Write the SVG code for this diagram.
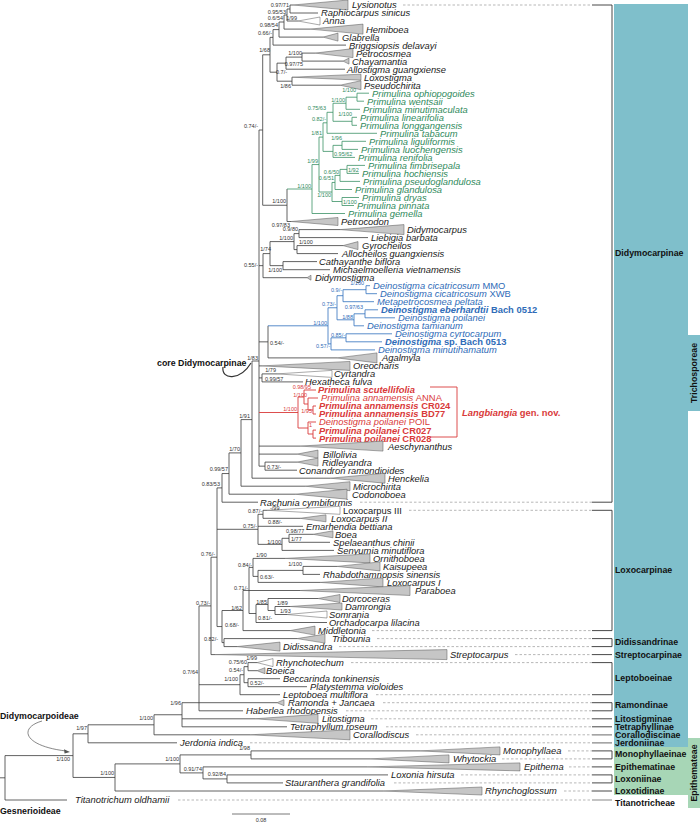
<svg xmlns="http://www.w3.org/2000/svg" width="700" height="822" viewBox="0 0 700 822">
<style>
.br{fill:none;stroke:#3a3a3a;stroke-width:0.8}
.gn{fill:none;stroke:#3b9266;stroke-width:0.8}
.bl{fill:none;stroke:#3070bd;stroke-width:0.8}
.rd{fill:none;stroke:#d93a3a;stroke-width:0.9}
.tri{fill:#c6c6c6;stroke:#555;stroke-width:0.5}
.trw{fill:#fff;stroke:#555;stroke-width:0.5}
text{font-family:"Liberation Sans",Arial,sans-serif}
.t{font-style:italic;font-size:9.4px;fill:#1a1a1a}
.tg{fill:#2f8a5c}
.tb{fill:#2f6cb8}
.tr{fill:#d93a3a}
.bd{font-weight:bold}
.u{font-style:normal}
.s{font-size:5.5px;fill:#333}
.sg{fill:#2f8a5c}
.sb{fill:#2f6cb8}
.sr{fill:#d93a3a}
.e{text-anchor:end}
.d{fill:none;stroke:#9a9a9a;stroke-width:0.7;stroke-dasharray:2.5 2}
.k{fill:none;stroke:#333;stroke-width:0.9}
.kg{fill:none;stroke:#888;stroke-width:1.2}
.sub{font-weight:bold;font-size:8.8px;fill:#111}
</style>

<g id="bands">
<rect x="614" y="4" width="74" height="743" fill="#7fbfcb"/>
<rect x="688" y="335" width="12" height="76" fill="#7fbfcb"/>
<rect x="614" y="747" width="74" height="48" fill="#a7d6b6"/>
<rect x="688" y="738" width="12" height="70" fill="#a7d6b6"/>
<text class="sub" transform="translate(697 373) rotate(-90)" text-anchor="middle" font-size="9">Trichosporeae</text>
<text class="sub" transform="translate(697 773) rotate(-90)" text-anchor="middle" font-size="9">Epithemateae</text>
</g>

<g id="connectors">
<path class="br" d="M290 5V13M290 5H293M290 13H318M287 9V21M287 9H290M287 21H298M284 15V29.1M284 15H287M284 29.1H310M279 22V37.1M279 22H284M279 37.1H323M273 29.6V45.1M273 29.6H279M273 45.1H346M302 53.1V61.1M302 53.1H315M302 61.1H343M286 57.1V69.2M286 57.1H302M286 69.2H345M292 77.2V85.2M292 85.2H340M277 63.15V81.2M277 63.15H286M277 81.2H292M270 37.35V72.2M270 37.35H273M270 72.2H277M262.7 54.8V205.25M262.7 54.8H270M262.7 205.25H287M259 130H262.7M287 189V221.5M287 221.5H291M263 253.6V277.7M259 265.65H263M263 253.6H270M263 277.7H307M270 241.6V265.65M270 241.6H294M270 265.65H283M294 233.6V249.6M294 233.6H299M294 249.6H297M299 229.6V237.6M299 229.6H340M299 237.6H368M297 245.6V253.6M297 245.6H343M297 253.6H338M283 261.6V269.7M283 261.6H317M283 269.7H330M259 341.85H268M268 325.8V357.9M268 357.9H337M259 130V466.15M259 365.9H262M259 377.9H262M259 446.1H300M259 454.1H297M259 466.15H265M262 373.9V381.9M262 373.9H277M262 381.9H303M265 462.1V470.2M265 462.1H297M265 470.2H297M252 361V478.2M252 361H259M252 478.2H330M241 419.6V486.2M241 419.6H252M241 486.2H305M229 452.9V494.2M229 452.9H241M229 494.2H295M222 473.55V502.2M222 473.55H229M222 502.2H258"/>
<path class="br" d="M263 510.3V518.3M263 510.3H267M263 518.3H300M289 534.3V542.3M289 534.3H313M289 542.3H330M282 538.3V550.4M282 538.3H289M282 550.4H334M258 514.3V544.35M258 514.3H263M258 526.3H303M258 544.35H282M303 566.4V574.4M303 566.4H337M303 574.4H320M258 570.4V582.4M258 570.4H303M258 582.4H320M253 558.4V576.4M253 558.4H285M253 576.4H258M275 606.5V614.5M275 606.5H290M275 614.5H287M268 598.5V610.5M268 598.5H318M268 610.5H275M256 604.5V622.5M256 604.5H268M256 622.5H327M249 567.4V613.5M249 567.4H253M249 590.5H300M249 613.5H256M243 590.45V630.6M243 590.45H249M243 630.6H290M224 638.6V646.6M224 638.6H297M224 646.6H237M222 610.5V642.6M222 610.5H243M222 642.6H224M217 487.9V626.55M217 487.9H222M217 529.3H258M217 626.55H222M211 557.2V654.6M211 557.2H217M211 654.6H215M248 662.6V670.7M248 662.6H257M248 670.7H257M248 678.7V686.7M248 678.7H280M248 686.7H307M244 666.65V682.7M244 666.65H248M244 682.7H248M240 674.7V694.7M240 674.7H244M240 694.7H280M199 605.9V710.8M199 605.9H211M199 684.7H240M199 702.7H277M199 710.8H243M182 702.7V726.8M182 702.7H199M182 718.8H255M182 726.8H287M154 714.75V734.8M154 714.75H182M154 734.8H250M88 724.8V742.8M88 724.8H154M88 742.8H177M251 750.9V758.9M251 750.9H420M251 758.9H370M227 774.9V782.9M227 774.9H388M227 782.9H283M203 766.9V778.9M203 766.9H367M203 778.9H227M180 754.9V772.9M180 754.9H251M180 772.9H203M115 763.9V791M115 763.9H180M115 791H383M73 733.8V777.45M73 733.8H88M73 777.45H115M5 755.6V800M5 755.6H73M5 800H67M0 777.8H5"/>
<path class="gn" d="M287 189H312M312 164.55V213.5M312 164.55H319M312 213.5H345M319 137.1V192M319 137.1H323M319 192H332M323 122.8V151.4M323 122.8H327M323 151.4H333M327 112.3V133.3M327 112.3H333M327 133.3H377M333 103.25V121.3M333 103.25H346M333 121.3H352M346 97.2V109.3M346 97.2H357M346 109.3H360M357 93.2V101.2M357 93.2H369M357 101.2H364M352 117.3V125.3M352 117.3H357M352 125.3H357M333 145.35V157.4M333 145.35H342M333 157.4H355M342 141.3V149.4M342 141.3H366M342 149.4H358M332 182.45V201.5M332 182.45H335M332 201.5H342M335 175.4V189.5M335 175.4H340M335 189.5H352M340 169.4V181.4M340 169.4H347M340 181.4H360M347 165.4V173.4M347 165.4H365M347 173.4H359M342 197.5V205.5M342 197.5H359M342 205.5H354"/>
<path class="bl" d="M268 325.8H328M328 307.75V343.85M328 307.75H337M328 343.85H331M337 295.7V319.8M337 295.7H343M337 319.8H354M343 289.7V301.7M343 289.7H366M343 301.7H374M366 285.7V293.7M366 285.7H370M366 293.7H377M354 313.8V325.8M354 313.8H365M354 325.8H364M365 309.8V317.8M365 309.8H378M365 317.8H395M331 337.8V349.9M331 337.8H346M331 349.9H375M346 333.8V341.8M346 333.8H392M346 341.8H382"/>
<path class="rd" d="M259 412.5H298M298 397V428M298 397H304M304 390V404M304 390H316M304 404H308M308 398V410M308 398H318M308 410H313M313 406V414M313 406H316M313 414H316M298 428H308M308 422V434M308 422H316M308 434H313M313 430.1V438.1M313 430.1H316M313 438.1H316M430 387H457V437H430"/>
<path class="d" d="M403 5H592M360 502.2H592M409 510.3H592M372 630.6H592M377 638.6H592M339 646.6H592M515 654.6H592M351 662.6H592M376 694.7H592M383 702.7H592M346 710.8H592M371 718.8H592M386 726.8H592M416 734.8H592M250 742.8H592M568 750.9H592M502 758.9H592M569 766.9H592M461 774.9H592M394 782.9H592M564 791H592M178 800H592"/>
<path class="k" d="M592 5H612V502.2H592M592 510.3H612V630.6H592M592 638.6H612V646.6H592M592 654.6H612M592 662.6H612V694.7H592M592 702.7H612V710.8H592M592 718.8H612M592 726.8H612M592 750.9H612V758.9H592M592 766.9H612M592 774.9H612V782.9H592M592 791H612"/>
<path class="kg" d="M592 734.8H612M592 742.8H612M592 800H612"/>
<path fill="none" stroke="#333" stroke-width="1.2" d="M223 367C221 380 240 381 251 363"/>
<path fill="none" stroke="#555" stroke-width="0.7" d="M42 721C18 728 24 746 66 751"/>
<path fill="#555" d="M70 752L64 749.3L64.6 753.5Z"/>
<path fill="none" stroke="#555" stroke-width="0.8" d="M232 814H290"/>
</g>

<g id="tips-didymocarpinae">
<g id="n-lysionotus"><polygon class="tri" points="293,5 348,0 348,10"/><text class="t" x="352" y="8.4">Lysionotus</text></g>
<g id="n-raphiocarpus"><text class="t" x="321" y="16.4">Raphiocarpus sinicus</text></g>
<g id="n-anna"><polygon class="trw" points="298,21 320,17 320,25"/><text class="t" x="323" y="24.4">Anna</text></g>
<g id="n-hemiboea"><polygon class="tri" points="310,29.1 363,24.1 363,34.1"/><text class="t" x="366" y="32.5">Hemiboea</text></g>
<g id="n-glabrella"><polygon class="tri" points="323,37.1 338,33.1 338,41.1"/><text class="t" x="342" y="40.5">Glabrella</text></g>
<g id="n-briggsiopsis"><text class="t" x="349" y="48.5">Briggsiopsis delavayi</text></g>
<g id="n-petrocosmea"><polygon class="tri" points="315,53.1 353,48.6 353,57.6"/><text class="t" x="356" y="56.5">Petrocosmea</text></g>
<g id="n-chayamantia"><polygon class="tri" points="343,61.1 349,58.1 349,64.1"/><text class="t" x="352" y="64.5">Chayamantia</text></g>
<g id="n-allostigma"><text class="t" x="347" y="72.6">Allostigma guangxiense</text></g>
<g id="n-loxostigma"><polygon class="tri" points="292,77.2 361,74.2 361,80.2"/><text class="t" x="364" y="80.6">Loxostigma</text></g>
<g id="n-pseudochirita"><polygon class="tri" points="340,85.2 361,80.7 361,89.7"/><text class="t" x="364" y="88.6">Pseudochirita</text></g>
<g id="n-primulina">
<text class="t tg" x="372" y="96.6">Primulina ophiopogoides</text>
<text class="t tg" x="367" y="104.6">Primulina wentsaii</text>
<text class="t tg" x="363" y="112.7">Primulina minutimaculata</text>
<text class="t tg" x="360" y="120.7">Primulina linearifolia</text>
<text class="t tg" x="360" y="128.7">Primulina longgangensis</text>
<text class="t tg" x="380" y="136.7">Primulina tabacum</text>
<text class="t tg" x="369" y="144.7">Primulina liguliformis</text>
<text class="t tg" x="361" y="152.8">Primulina luochengensis</text>
<text class="t tg" x="358" y="160.8">Primulina renifolia</text>
<text class="t tg" x="368" y="168.8">Primulina fimbrisepala</text>
<text class="t tg" x="362" y="176.8">Primulina hochiensis</text>
<text class="t tg" x="363" y="184.8">Primulina pseudoglandulosa</text>
<text class="t tg" x="355" y="192.9">Primulina glandulosa</text>
<text class="t tg" x="362" y="200.9">Primulina dryas</text>
<text class="t tg" x="357" y="208.9">Primulina pinnata</text>
<text class="t tg" x="348" y="216.9">Primulina gemella</text>
</g>
<g id="n-petrocodon"><polygon class="tri" points="291,221.5 338,217.5 338,225.5"/><text class="t" x="341" y="224.9">Petrocodon</text></g>
<g id="n-didymocarpus"><polygon class="tri" points="340,229.6 404,224.6 404,234.6"/><text class="t" x="407" y="233">Didymocarpus</text></g>
<g id="n-liebigia"><text class="t" x="371" y="241">Liebigia barbata</text></g>
<g id="n-gyrocheilos"><polygon class="tri" points="343,245.6 358,241.6 358,249.6"/><text class="t" x="362" y="249">Gyrocheilos</text></g>
<g id="n-allocheilos"><text class="t" x="342" y="257">Allocheilos guangxiensis</text></g>
<g id="n-cathayanthe"><text class="t" x="319" y="265">Cathayanthe biflora</text></g>
<g id="n-michaelmoelleria"><text class="t" x="333" y="273.1">Michaelmoelleria vietnamensis</text></g>
<g id="n-didymostigma"><polygon class="tri" points="307,277.7 311,275.2 311,280.2"/><text class="t" x="315" y="281.1">Didymostigma</text></g>
<g id="n-deinostigma">
<text class="t tb" x="373" y="289.1">Deinostigma cicatricosum <tspan class="u">MMO</tspan></text>
<text class="t tb" x="380" y="297.1">Deinostigma cicatricosum <tspan class="u">XWB</tspan></text>
<text class="t tb" x="377" y="305.1">Metapetrocosmea peltata</text>
<text class="t tb bd" x="381" y="313.2">Deinostigma eberhardtii <tspan class="u">Bach 0512</tspan></text>
<text class="t tb" x="398" y="321.2">Deinostigma poilanei</text>
<text class="t tb" x="367" y="329.2">Deinostigma tamianum</text>
<text class="t tb" x="395" y="337.2">Deinostigma cyrtocarpum</text>
<text class="t tb bd" x="385" y="345.2">Deinostigma <tspan class="u">sp. Bach 0513</tspan></text>
<text class="t tb" x="378" y="353.3">Deinostigma minutihamatum</text>
</g>
<g id="n-agalmyla"><polygon class="tri" points="337,357.9 377,352.9 377,362.9"/><text class="t" x="382" y="361.3">Agalmyla</text></g>
<g id="n-oreocharis"><polygon class="tri" points="262,365.9 350,361.4 350,370.4"/><text class="t" x="353" y="369.3">Oreocharis</text></g>
<g id="n-cyrtandra"><polygon class="trw" points="277,373.9 332,370.4 332,377.4"/><text class="t" x="334" y="377.3">Cyrtandra</text></g>
<g id="n-hexatheca"><text class="t" x="305" y="385.3">Hexatheca fulva</text></g>
<g id="n-langbiangia">
<text class="t tr bd" x="318" y="393.4">Primulina scutellifolia</text>
<text class="t tr" x="321" y="401.4">Primulina annamensis <tspan class="u">ANNA</tspan></text>
<text class="t tr bd" x="319" y="409.4">Primulina annamensis <tspan class="u">CR024</tspan></text>
<text class="t tr bd" x="319" y="417.4">Primulina annamensis <tspan class="u">BD77</tspan></text>
<text class="t tr" x="319" y="425.4">Deinostigma poilanei <tspan class="u">POIL</tspan></text>
<text class="t tr bd" x="319" y="433.5">Primulina poilanei <tspan class="u">CR027</tspan></text>
<text class="t tr bd" x="319" y="441.5">Primulina poilanei <tspan class="u">CR028</tspan></text>
<text class="t tr bd" x="462" y="416" font-size="10.5">Langbiangia <tspan class="u">gen. nov.</tspan></text>
</g>
<g id="n-aeschynanthus"><polygon class="tri" points="300,446.1 383,441.1 383,451.1"/><text class="t" x="388" y="449.5">Aeschynanthus</text></g>
<g id="n-billolivia"><polygon class="tri" points="297,454.1 318,450.1 318,458.1"/><text class="t" x="323" y="457.5">Billolivia</text></g>
<g id="n-ridleyandra"><polygon class="tri" points="297,462.1 318,458.1 318,466.1"/><text class="t" x="322" y="465.5">Ridleyandra</text></g>
<g id="n-conandron"><text class="t" x="299" y="473.6">Conandron ramondioides</text></g>
<g id="n-henckelia"><polygon class="tri" points="330,478.2 385,473.2 385,483.2"/><text class="t" x="388" y="481.6">Henckelia</text></g>
<g id="n-microchirita"><polygon class="tri" points="305,486.2 350,481.7 350,490.7"/><text class="t" x="353" y="489.6">Microchirita</text></g>
<g id="n-codonoboea"><polygon class="tri" points="295,494.2 347,489.2 347,499.2"/><text class="t" x="352" y="497.6">Codonoboea</text></g>
<g id="n-rachunia"><text class="t" x="260" y="505.6">Rachunia cymbiformis</text></g>
</g>

<g id="tips-lower">
<g id="n-loxocarpus3"><polygon class="trw" points="267,510.3 340,506.3 340,514.3"/><text class="t u" x="343" y="513.7">Loxocarpus III</text></g>
<g id="n-loxocarpus2"><polygon class="tri" points="300,518.3 326,514.8 326,521.8"/><text class="t" x="331" y="521.7">Loxocarpus II</text></g>
<g id="n-emarhendia"><text class="t" x="306" y="529.7">Emarhendia bettiana</text></g>
<g id="n-boea"><polygon class="tri" points="313,534.3 333,530.8 333,537.8"/><text class="t" x="335" y="537.7">Boea</text></g>
<g id="n-spelaeanthus"><text class="t" x="333" y="545.7">Spelaeanthus chinii</text></g>
<g id="n-senyumia"><text class="t" x="337" y="553.8">Senyumia minutiflora</text></g>
<g id="n-ornithoboea"><polygon class="tri" points="285,558.4 370,553.9 370,562.9"/><text class="t" x="373" y="561.8">Ornithoboea</text></g>
<g id="n-kaisupeea"><polygon class="tri" points="337,566.4 380,561.9 380,570.9"/><text class="t" x="383" y="569.8">Kaisupeea</text></g>
<g id="n-rhabdothamnopsis"><text class="t" x="323" y="577.8">Rhabdothamnopsis sinensis</text></g>
<g id="n-loxocarpus1"><polygon class="tri" points="320,582.4 383,577.9 383,586.9"/><text class="t" x="387" y="585.8">Loxocarpus I</text></g>
<g id="n-paraboea"><polygon class="tri" points="300,590.5 410,585.5 410,595.5"/><text class="t" x="415" y="593.9">Paraboea</text></g>
<g id="n-dorcoceras"><polygon class="tri" points="318,598.5 340,594.5 340,602.5"/><text class="t" x="342" y="601.9">Dorcoceras</text></g>
<g id="n-damrongia"><polygon class="tri" points="290,606.5 342,603 342,610"/><text class="t" x="345" y="609.9">Damrongia</text></g>
<g id="n-somrania"><polygon class="trw" points="287,614.5 327,611 327,618"/><text class="t" x="329" y="617.9">Somrania</text></g>
<g id="n-orchadocarpa"><text class="t" x="329" y="625.9">Orchadocarpa lilacina</text></g>
<g id="n-middletonia"><polygon class="tri" points="290,630.6 315,626.1 315,635.1"/><text class="t" x="318" y="634">Middletonia</text></g>
<g id="n-tribounia"><polygon class="tri" points="297,638.6 325,634.1 325,643.1"/><text class="t" x="332" y="642">Tribounia</text></g>
<g id="n-didissandra"><polygon class="tri" points="237,646.6 280,642.1 280,651.1"/><text class="t" x="283" y="650">Didissandra</text></g>
<g id="n-streptocarpus"><polygon class="tri" points="215,654.6 447,649.6 447,659.6"/><text class="t" x="450" y="658">Streptocarpus</text></g>
<g id="n-rhynchotechum"><polygon class="trw" points="257,662.6 273,658.6 273,666.6"/><text class="t" x="276" y="666">Rhynchotechum</text></g>
<g id="n-boeica"><polygon class="tri" points="257,670.7 265,667.7 265,673.7"/><text class="t" x="266" y="674.1">Boeica</text></g>
<g id="n-beccarinda"><text class="t" x="283" y="682.1">Beccarinda tonkinensis</text></g>
<g id="n-platystemma"><text class="t" x="310" y="690.1">Platystemma violoides</text></g>
<g id="n-leptoboea"><text class="t" x="283" y="698.1">Leptoboea multiflora</text></g>
<g id="n-ramonda"><polygon class="tri" points="277,702.7 284,699.7 284,705.7"/><text class="t" x="288" y="706.1">Ramonda + Jancaea</text></g>
<g id="n-haberlea"><text class="t" x="246" y="714.2">Haberlea rhodopensis</text></g>
<g id="n-litostigma"><polygon class="tri" points="255,718.8 318,714.3 318,723.3"/><text class="t" x="322" y="722.2">Litostigma</text></g>
<g id="n-tetraphyllum"><text class="t" x="290" y="730.2">Tetraphyllum roseum</text></g>
<g id="n-corallodiscus"><polygon class="tri" points="250,734.8 350,729.8 350,739.8"/><text class="t" x="353" y="738.2">Corallodiscus</text></g>
<g id="n-jerdonia"><text class="t" x="180" y="746.2">Jerdonia indica</text></g>
<g id="n-monophyllaea"><polygon class="tri" points="420,750.9 500,746.9 500,754.9"/><text class="t" x="503" y="754.3">Monophyllaea</text></g>
<g id="n-whytockia"><polygon class="tri" points="370,758.9 449,754.9 449,762.9"/><text class="t" x="453" y="762.3">Whytockia</text></g>
<g id="n-epithema"><polygon class="tri" points="367,766.9 520,762.9 520,770.9"/><text class="t" x="524" y="770.3">Epithema</text></g>
<g id="n-loxonia"><text class="t" x="391" y="778.3">Loxonia hirsuta</text></g>
<g id="n-stauranthera"><text class="t" x="285" y="786.3">Stauranthera grandifolia</text></g>
<g id="n-rhynchoglossum"><polygon class="tri" points="383,791 482,787 482,795"/><text class="t" x="485" y="794.4">Rhynchoglossum</text></g>
<g id="n-titanotrichum"><text class="t" x="75" y="803.4">Titanotrichum oldhamii</text></g>
</g>

<g id="support">
<text class="s e" x="289" y="6.5">0.97/71</text>
<text class="s e" x="286" y="13.5">0.95/53</text>
<text class="s e" x="297" y="19.5">1/99</text>
<text class="s e" x="283" y="19.5">0.6/54</text>
<text class="s e" x="278" y="27">0.98/54</text>
<text class="s e" x="272" y="35">0.66/-</text>
<text class="s e" x="270" y="52">1/68</text>
<text class="s e" x="302" y="55">1/100</text>
<text class="s e" x="303" y="65.5">0.97/75</text>
<text class="s e" x="287" y="73.5">0.7/-</text>
<text class="s e" x="291" y="87.5">1/86</text>
<text class="s e" x="258" y="128">0.74/-</text>
<text class="s sg e" x="356" y="92">1/100</text>
<text class="s sg e" x="345" y="101.5">1/100</text>
<text class="s sg e" x="326" y="110">0.75/63</text>
<text class="s sg e" x="352" y="116">1/100</text>
<text class="s sg e" x="326" y="121">0.82/-</text>
<text class="s sg e" x="322" y="135">1/81</text>
<text class="s sg e" x="342" y="140">1/96</text>
<text class="s sg" x="334" y="155.5">0.95/62</text>
<text class="s sg e" x="318" y="162.5">1/99</text>
<text class="s sg" x="348" y="171.5">1/92</text>
<text class="s sg e" x="339" y="174">0.6/50</text>
<text class="s sg e" x="334" y="180">0.6/51</text>
<text class="s sg e" x="331" y="197">1/100</text>
<text class="s sg" x="343" y="203.5">1/100</text>
<text class="s sg e" x="311" y="187.5">1/100</text>
<text class="s e" x="286" y="203">1/100</text>
<text class="s e" x="290" y="226.5">0.97/83</text>
<text class="s e" x="298" y="231">0.9/80</text>
<text class="s e" x="293" y="239.5">1/100</text>
<text class="s" x="299" y="244.2">1/100</text>
<text class="s e" x="271" y="251">1/74</text>
<text class="s e" x="282" y="272">1/100</text>
<text class="s e" x="258" y="267">0.55/-</text>
<text class="s sb e" x="364" y="285">1/100</text>
<text class="s sb e" x="342" y="291.5">0.9/-</text>
<text class="s sb e" x="336" y="306">0.73/-</text>
<text class="s sb e" x="363" y="308.5">0.97/63</text>
<text class="s sb e" x="353" y="318.5">1/88</text>
<text class="s sb e" x="327" y="324.5">1/100</text>
<text class="s sb e" x="345" y="336.5">0.85/-</text>
<text class="s sb e" x="330" y="347.5">0.57/-</text>
<text class="s" x="270" y="344.5">0.54/-</text>
<text class="s e" x="258" y="359.5">1/83</text>
<text class="s e" x="276" y="371.5">1/79</text>
<text class="s" x="265" y="380.5">0.99/57</text>
<text class="s e" x="250" y="417.5">1/91</text>
<text class="s sr e" x="311" y="388.5">0.98/95</text>
<text class="s sr e" x="307" y="397">1/100</text>
<text class="s sr e" x="297" y="411">1/100</text>
<text class="s sr e" x="312" y="413">1/95</text>
<text class="s sr e" x="312" y="426.5">1</text>
<text class="s e" x="240" y="451">1/70</text>
<text class="s" x="267" y="468.5">0.73/-</text>
<text class="s e" x="228" y="471">0.99/57</text>
<text class="s e" x="220" y="486">0.83/53</text>
<text class="s e" x="262" y="513">0.87/-</text>
<text class="s" x="270" y="509.5">-/99</text>
<text class="s" x="268" y="524">0.88/-</text>
<text class="s e" x="257" y="528">0.75/-</text>
<text class="s" x="286" y="532.5">0.98/77</text>
<text class="s" x="291" y="540.5">1/77</text>
<text class="s e" x="281" y="544">1/100</text>
<text class="s" x="256" y="557">1/90</text>
<text class="s e" x="252" y="566.5">0.84/-</text>
<text class="s e" x="302" y="565.5">1/100</text>
<text class="s" x="260" y="578.5">0.63/-</text>
<text class="s e" x="248" y="589.5">0.71/-</text>
<text class="s e" x="267" y="603.5">1/85</text>
<text class="s" x="277" y="605">1/89</text>
<text class="s" x="280" y="613">1/93</text>
<text class="s" x="258" y="619.5">0.81/-</text>
<text class="s e" x="242" y="609.5">1/62</text>
<text class="s" x="225" y="627">0.68/-</text>
<text class="s e" x="215" y="556">0.76/-</text>
<text class="s e" x="210" y="604.5">0.73/-</text>
<text class="s e" x="218" y="641">0.82/-</text>
<text class="s e" x="257" y="660">1/99</text>
<text class="s e" x="247" y="664">0.75/60</text>
<text class="s e" x="243" y="672">0.54/-</text>
<text class="s e" x="238" y="681">1/100</text>
<text class="s" x="250" y="685">0.52/-</text>
<text class="s e" x="198" y="674">0.7/64</text>
<text class="s e" x="181" y="705">1/96</text>
<text class="s e" x="153" y="719.5">1/100</text>
<text class="s e" x="87" y="729.5">1/97</text>
<text class="s e" x="70" y="760.5">1/100</text>
<text class="s e" x="250" y="750">1/98</text>
<text class="s e" x="179" y="761">1/100</text>
<text class="s e" x="202" y="770.5">0.91/74</text>
<text class="s e" x="226" y="776">0.92/84</text>
<text class="s e" x="114" y="774.5">1/100</text>
<text class="s" x="261" y="822" text-anchor="middle">0.08</text>
</g>

<g id="group-labels">
<text class="sub" x="615" y="256">Didymocarpinae</text>
<text class="sub" x="615" y="573">Loxocarpinae</text>
<text class="sub" x="615" y="645">Didissandrinae</text>
<text class="sub" x="615" y="657.5">Streptocarpinae</text>
<text class="sub" x="615" y="681">Leptoboeinae</text>
<text class="sub" x="615" y="708">Ramondinae</text>
<text class="sub" x="615" y="721.5">Litostigminae</text>
<text class="sub" x="615" y="729.5">Tetraphyllinae</text>
<text class="sub" x="615" y="737.5">Corallodiscinae</text>
<text class="sub" x="615" y="745.5">Jerdoniinae</text>
<text class="sub" x="615" y="757">Monophyllaeinae</text>
<text class="sub" x="615" y="770">Epithematinae</text>
<text class="sub" x="615" y="782">Loxoniinae</text>
<text class="sub" x="615" y="794">Loxotidinae</text>
<text class="sub" x="615" y="805.5" font-size="10.5">Titanotricheae</text>
<text class="sub" x="157" y="366" font-size="8.7">core Didymocarpinae</text>
<text class="sub" x="0" y="719" font-size="10.8">Didymocarpoideae</text>
<text class="sub" x="0" y="814" font-size="11">Gesnerioideae</text>
</g>
</svg>
